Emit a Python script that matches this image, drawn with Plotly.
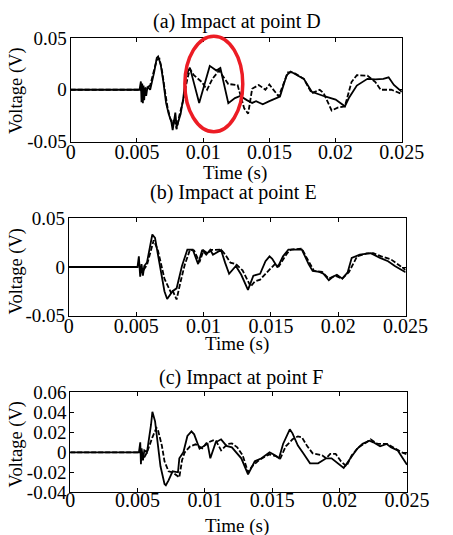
import plotly.graph_objects as go

# ---------------- data ----------------
ta_s = [0, 0.0052, 0.0053, 0.00535, 0.0054, 0.00545, 0.0055, 0.00555, 0.0056, 0.0057, 0.0058, 0.006, 0.0063, 0.0065, 0.0066, 0.0068, 0.007, 0.0072, 0.0074, 0.0076, 0.0077, 0.0079, 0.008, 0.0083, 0.0085, 0.0087, 0.009, 0.0097, 0.0105, 0.011, 0.0113, 0.0119, 0.0124, 0.0128, 0.0133, 0.0137, 0.014, 0.0145, 0.015, 0.0158, 0.0163, 0.0166, 0.0176, 0.0182, 0.0192, 0.02, 0.0207, 0.021, 0.0216, 0.0224, 0.023, 0.0236, 0.024, 0.0244, 0.025]
va_s = [0, 0, 0.008, -0.012, 0.006, -0.013, 0.004, -0.010, 0.002, -0.006, 0.003, 0, 0.0167, 0.0306, 0.032, 0.024, 0.0074, -0.0127, -0.0235, -0.031, -0.039, -0.022, -0.036, -0.0235, -0.008, 0.0136, 0.0213, -0.0127, 0.023, 0.0185, 0.021, -0.013, -0.008, -0.006, -0.010, -0.0127, -0.011, -0.014, -0.011, -0.0065, 0.014, 0.0175, 0.0105, -0.002, -0.0065, -0.0095, -0.016, -0.008, 0.004, 0.0105, 0.010, 0.0105, 0.012, 0.0046, -0.002]
ta_d = [0, 0.0053, 0.0055, 0.0057, 0.006, 0.0063, 0.0065, 0.0067, 0.0069, 0.0071, 0.0073, 0.0075, 0.0077, 0.0078, 0.008, 0.0082, 0.0085, 0.0088, 0.009, 0.0093, 0.0099, 0.0103, 0.0107, 0.0112, 0.0119, 0.0126, 0.0131, 0.0134, 0.0137, 0.0142, 0.0147, 0.015, 0.0157, 0.0164, 0.0168, 0.0176, 0.0182, 0.0188, 0.0191, 0.0197, 0.0202, 0.0207, 0.0212, 0.0216, 0.0224, 0.023, 0.0234, 0.0242, 0.0249, 0.025]
va_d = [0, 0, -0.004, 0.002, 0.004, 0.018, 0.029, 0.030, 0.018, 0.0, -0.016, -0.027, -0.033, -0.028, -0.038, -0.025, -0.010, 0.010, 0.020, 0.014, 0.0074, 0, 0.0105, 0.0185, 0.0055, 0.0045, -0.018, -0.023, 0.001, 0.0046, 0, 0.005, -0.0065, 0.0167, 0.0167, 0.0105, -0.0034, 0, -0.0034, -0.020, -0.017, -0.016, 0.0074, 0.014, 0.0136, 0.0074, 0, 0, -0.0034, -0.004]

tb_s = [0, 0.0051, 0.0052, 0.00525, 0.0053, 0.0054, 0.0055, 0.0056, 0.0058, 0.0062, 0.0064, 0.0066, 0.0069, 0.0071, 0.0073, 0.0077, 0.008, 0.0084, 0.0088, 0.0092, 0.0096, 0.0099, 0.0102, 0.0105, 0.0107, 0.0113, 0.0116, 0.0119, 0.0124, 0.0128, 0.0133, 0.0137, 0.0142, 0.0146, 0.0149, 0.0151, 0.0155, 0.0159, 0.0163, 0.0173, 0.0178, 0.0181, 0.0186, 0.0189, 0.0193, 0.0196, 0.0199, 0.0203, 0.0207, 0.021, 0.0216, 0.0224, 0.0231, 0.0237, 0.0242, 0.025]
vb_s = [0, 0, 0.011, -0.004, -0.010, 0.003, -0.009, 0.001, 0.0045, 0.0335, 0.030, 0.014, -0.008, -0.025, -0.033, -0.025, -0.022, 0.001, 0.018, 0.018, 0.003, 0.0176, 0.0127, 0.0176, 0.0127, 0.0176, 0.0045, -0.007, 0.001, -0.008, -0.0236, -0.009, -0.007, 0.006, 0.011, 0.0085, -0.0005, 0.011, 0.018, 0.018, 0.003, -0.004, -0.005, -0.007, -0.0137, -0.010, -0.008, -0.012, -0.0055, 0.0094, 0.0127, 0.0143, 0.0094, 0.006, 0.001, -0.0055]
tb_d = [0, 0.0053, 0.0055, 0.0058, 0.0063, 0.0066, 0.0071, 0.0076, 0.0077, 0.008, 0.0083, 0.0086, 0.009, 0.0093, 0.0097, 0.01, 0.0103, 0.0106, 0.0113, 0.0116, 0.012, 0.0124, 0.0129, 0.0135, 0.0138, 0.0142, 0.0146, 0.0153, 0.0156, 0.0162, 0.0165, 0.0173, 0.0176, 0.0182, 0.0188, 0.0193, 0.0198, 0.0203, 0.0208, 0.0214, 0.0221, 0.0226, 0.0232, 0.0239, 0.0246, 0.025]
vb_d = [0, 0, -0.004, 0.002, 0.0275, 0.018, -0.012, -0.027, -0.024, -0.0335, -0.015, 0.002, 0.018, 0.017, 0.005, 0.017, 0.014, 0.0176, 0.018, 0.013, 0.0045, 0.003, -0.0035, -0.020, -0.015, -0.013, -0.007, 0.003, 0.001, 0.014, 0.018, 0.019, 0.011, -0.004, -0.005, -0.012, -0.009, -0.012, -0.005, 0.011, 0.014, 0.0143, 0.011, 0.008, 0.001, -0.003]

tc_s = [0, 0.0051, 0.0052, 0.00525, 0.0053, 0.0054, 0.0055, 0.0057, 0.006, 0.0061, 0.0063, 0.0065, 0.0067, 0.007, 0.0071, 0.0073, 0.0076, 0.008, 0.0081, 0.0084, 0.0087, 0.009, 0.0092, 0.0096, 0.0098, 0.0102, 0.0104, 0.0108, 0.0112, 0.0116, 0.012, 0.0122, 0.0127, 0.0132, 0.0137, 0.0142, 0.0148, 0.0152, 0.0155, 0.0158, 0.0163, 0.0165, 0.0169, 0.0173, 0.0178, 0.0184, 0.019, 0.0194, 0.02, 0.0203, 0.0208, 0.0213, 0.0217, 0.0222, 0.0225, 0.023, 0.0235, 0.0238, 0.0243, 0.0246, 0.025]
vc_s = [0, 0, 0.010, -0.012, 0.004, -0.008, 0.002, 0, 0.0276, 0.0405, 0.031, 0.0084, -0.014, -0.0317, -0.033, -0.028, -0.019, -0.020, -0.006, 0, 0.0164, 0.021, 0.018, 0.0036, 0.005, 0.0085, -0.006, 0.010, 0.013, 0.0065, 0.005, 0.002, -0.006, -0.022, -0.009, -0.006, 0, -0.003, -0.006, 0.0084, 0.023, 0.019, 0.0068, -0.001, -0.011, -0.011, -0.006, -0.006, -0.0125, -0.0157, -0.006, 0.0036, 0.0085, 0.0116, 0.010, 0.006, 0.0084, 0.005, 0.002, -0.004, -0.0125]
tc_d = [0, 0.0053, 0.0055, 0.0057, 0.0061, 0.0064, 0.0065, 0.0068, 0.007, 0.0073, 0.0076, 0.008, 0.0081, 0.0083, 0.0085, 0.0089, 0.0093, 0.0098, 0.0101, 0.0106, 0.0108, 0.0112, 0.0117, 0.012, 0.0124, 0.0128, 0.0132, 0.0135, 0.014, 0.0145, 0.0148, 0.0153, 0.0156, 0.016, 0.0165, 0.0169, 0.0172, 0.0176, 0.018, 0.0187, 0.019, 0.0193, 0.0197, 0.0201, 0.0205, 0.0209, 0.0214, 0.022, 0.0223, 0.0228, 0.0235, 0.0241, 0.0246, 0.025]
vc_d = [0, 0, -0.005, 0, 0.015, 0.0245, 0.023, 0.007, -0.009, -0.019, -0.020, -0.024, -0.025, -0.008, 0, 0.006, 0.008, 0.004, 0.009, 0.012, 0.012, 0.002, 0.0085, 0.009, 0.005, -0.003, -0.020, -0.014, -0.008, -0.004, -0.002, -0.004, -0.006, 0.006, 0.013, 0.016, 0.015, 0.006, -0.001, -0.003, -0.006, -0.0015, -0.0015, -0.009, -0.014, -0.003, 0.005, 0.010, 0.013, 0.0085, 0.0085, 0.004, 0, -0.002]

panel_titles = ["(a) Impact at point D", "(b) Impact at point E", "(c) Impact at point F"]
x_tickvals = [0, 0.005, 0.01, 0.015, 0.02, 0.025]
x_ticktext = ["0", "0.005", "0.01", "0.015", "0.02", "0.025"]
y_tickvals_ab = [-0.05, 0, 0.05]
y_ticktext_ab = ["-0.05", "0", "0.05"]
y_tickvals_c = [-0.04, -0.02, 0, 0.02, 0.04, 0.06]
y_ticktext_c = ["-0.04", "-0.02", "0", "0.02", "0.04", "0.06"]
highlight = dict(t0=0.00862, t1=0.01299, v0=-0.0405, v1=0.0516)  # red ellipse in panel (a)

for a, b in [(ta_s, va_s), (ta_d, va_d), (tb_s, vb_s), (tb_d, vb_d), (tc_s, vc_s), (tc_d, vc_d)]:
    assert len(a) == len(b)

# ---------------- layout ----------------
W, H = 453, 535
FONT = "Liberation Serif"

def px(x):
    return x / W

def py(y):
    return 1 - y / H

# pixel boxes: (left, right, top, bottom)
boxes = [(70, 423, 29, 137), (68, 427, 217, 318), (69.5, 428.5, 398, 502)]
yranges = [[-0.05, 0.05], [-0.05, 0.05], [-0.04, 0.06]]
x_standoff = [-8, -8, -10]

fig = go.Figure()
series = [((ta_s, va_s), (ta_d, va_d)), ((tb_s, vb_s), (tb_d, vb_d)), ((tc_s, vc_s), (tc_d, vc_d))]
for i, ((ts, vs), (td, vd)) in enumerate(series):
    xa = "x" if i == 0 else f"x{i+1}"
    ya = "y" if i == 0 else f"y{i+1}"
    fig.add_trace(go.Scatter(x=td, y=vd, mode="lines", xaxis=xa, yaxis=ya,
                             line=dict(color="black", width=1.8, dash="5px,2px"), showlegend=False))
    fig.add_trace(go.Scatter(x=ts, y=vs, mode="lines", xaxis=xa, yaxis=ya,
                             line=dict(color="black", width=1.8), showlegend=False))

layout = dict(width=W, height=H, margin=dict(l=0, r=0, t=0, b=0),
              paper_bgcolor="white", plot_bgcolor="white", showlegend=False,
              font=dict(family=FONT, size=20, color="black"))
for i, (l, r, t, b) in enumerate(boxes):
    suffix = "" if i == 0 else str(i + 1)
    yv, yt = (y_tickvals_c, y_ticktext_c) if i == 2 else (y_tickvals_ab, y_ticktext_ab)
    layout["xaxis" + suffix] = dict(
        domain=[px(l), px(r)], range=[0, 0.025], anchor="y" + suffix,
        tickvals=x_tickvals, ticktext=x_ticktext, ticks="inside", ticklen=4,
        tickcolor="black", showline=True, linecolor="black", linewidth=1, mirror="ticks",
        showgrid=False, zeroline=False, ticklabelstandoff=x_standoff[i],
        tickfont=dict(family=FONT, size=20, color="black"))
    layout["yaxis" + suffix] = dict(
        domain=[py(b), py(t)], range=yranges[i], anchor="x" + suffix,
        tickvals=yv, ticktext=yt, ticks="inside", ticklen=4,
        tickcolor="black", showline=True, linecolor="black", linewidth=1, mirror="ticks",
        showgrid=False, zeroline=False, ticklabelstandoff=-1,
        tickfont=dict(family=FONT, size=19, color="black"))
fig.update_layout(**layout)

# titles and axis titles
title_pos = [(247, 12), (244, 190), (252, 382)]
time_pos = [(245, 170), (247, 348), (247, 537)]
volt_pos = [(13, 84), (12, 272), (12, 452)]
ann = []
for i in range(3):
    ann.append(dict(text=panel_titles[i], x=px(title_pos[i][0]), y=py(title_pos[i][1]),
                    xref="paper", yref="paper", showarrow=False, xanchor="center", yanchor="middle",
                    font=dict(family=FONT, size=20, color="black")))
    ann.append(dict(text="Time (s)", x=px(time_pos[i][0]), y=py(time_pos[i][1]),
                    xref="paper", yref="paper", showarrow=False, xanchor="center", yanchor="middle",
                    font=dict(family=FONT, size=19, color="black")))
    ann.append(dict(text="Voltage (V)", x=px(volt_pos[i][0]), y=py(volt_pos[i][1]), textangle=-90,
                    xref="paper", yref="paper", showarrow=False, xanchor="center", yanchor="middle",
                    font=dict(family=FONT, size=18.5, color="black")))
fig.update_layout(annotations=ann)

# red highlight ellipse in panel (a), converted from data units to paper units
l, r, t, b = boxes[0]
def dx(v):
    return px(l + (v - 0) / 0.025 * (r - l))
def dy(v):
    return py(b - (v - yranges[0][0]) / (yranges[0][1] - yranges[0][0]) * (b - t))
fig.add_shape(type="circle", xref="paper", yref="paper",
              x0=dx(highlight["t0"]), x1=dx(highlight["t1"]),
              y0=dy(highlight["v0"]), y1=dy(highlight["v1"]),
              line=dict(color="rgb(236,28,36)", width=3.5), layer="above")

fig.write_html("out.html", post_script="document.body.style.margin='0';")
